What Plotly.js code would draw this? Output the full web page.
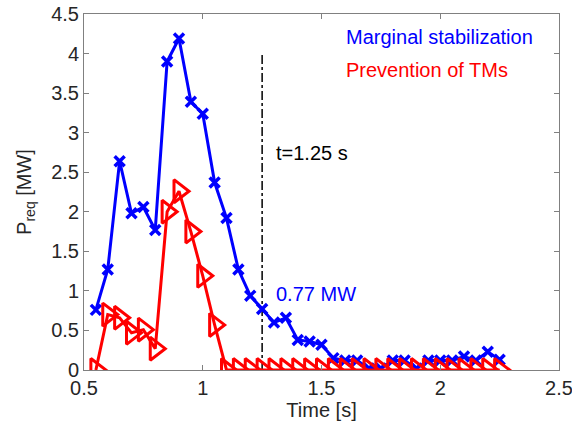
<!DOCTYPE html>
<html><head><meta charset="utf-8">
<script src="https://cdn.plot.ly/plotly-3.0.1.min.js"></script>
<style>body{margin:0;background:#fff}#c{width:572px;height:428px}</style>
</head><body><div id="c"></div>
<script>
const timeBlue = [0.55,0.60,0.65,0.70,0.75,0.80,0.85,0.90,0.95,1.00,1.05,1.10,1.15,1.20,1.25,1.30,1.35,1.40,1.45,1.50,1.55,1.60,1.65,1.70,1.75,1.80,1.85,1.90,1.95,2.00,2.05,2.10,2.15,2.20,2.25];
const pMarginal = [0.76,1.27,2.64,1.98,2.06,1.77,3.90,4.19,3.39,3.24,2.37,1.92,1.27,0.94,0.77,0.60,0.66,0.38,0.36,0.32,0.15,0.12,0.12,0.02,0.02,0.12,0.12,0.02,0.12,0.12,0.12,0.17,0.12,0.23,0.13];
const timeRed = [0.55,0.60,0.65,0.70,0.75,0.80,0.85,0.90,0.95,1.00,1.05,1.10,1.15,1.20,1.25,1.30,1.35,1.40,1.45,1.50,1.55,1.60,1.65,1.70,1.75,1.80,1.85,1.90,1.95,2.00,2.05,2.10,2.15,2.20,2.25];
const pPrevention = [0,0.70,0.66,0.47,0.51,0.27,2.00,2.26,1.75,1.19,0.57,0,0,0,0,0,0,0,0,0,0,0,0,0,0,0,0,0,0,0,0,0,0,0,0];
const markTime = [1.25,1.25];
const markP = [0,4.0];
const xTicks = [0.5,1,1.5,2,2.5];
const yTicks = [0,0.5,1,1.5,2,2.5,3,3.5,4,4.5];

const font = 'Liberation Sans';
const fs = 20;
const data = [
  {x: markTime, y: markP, mode:'lines', line:{color:'#000', width:1.5, dash:'dashdot'}, hoverinfo:'skip'},
  {x: timeBlue, y: pMarginal, mode:'lines+markers', line:{color:'#0000ff', width:3},
   marker:{symbol:'x-thin-open', size:10, line:{color:'#0000ff', width:3.5}}},
  {x: timeRed, y: pPrevention, mode:'lines+markers', line:{color:'#ff0000', width:3},
   marker:{symbol:'triangle-right-open', size:20, color:'#ff0000', line:{color:'#ff0000', width:3}}}
];
const axisBase = {showline:true, linecolor:'#808080', linewidth:1, mirror:'ticks', ticks:'inside', ticklen:5,
  tickcolor:'#808080', showgrid:false, zeroline:false, ticklabeloverflow:'allow', tickfont:{family:font, size:fs, color:'#262626'}};
const pw = 572-84-13, ph = 428-14-58;
const layout = {
  width:572, height:428, margin:{l:84, r:13, t:14, b:58},
  paper_bgcolor:'#fff', plot_bgcolor:'#fff', showlegend:false,
  xaxis: Object.assign({}, axisBase, {range:[0.5,2.5], tickvals:xTicks, ticktext:xTicks.map(String),
    title:{text:'Time [s]', font:{family:font, size:fs, color:'#262626'}, standoff:4}}),
  yaxis: Object.assign({}, axisBase, {range:[0,4.5], tickvals:yTicks, ticktext:yTicks.map(String),
    title:{text:'P<sub>req</sub> [MW]', font:{family:font, size:fs, color:'#262626'}, standoff:14}}),
  annotations: [
    {x:1.30, y:2.74, xref:'x', yref:'y', text:'t=1.25 s', showarrow:false, xanchor:'left', font:{family:font, size:fs, color:'#000'}},
    {x:1.30, y:0.96, xref:'x', yref:'y', text:'0.77 MW', showarrow:false, xanchor:'left', font:{family:font, size:fs, color:'#0000ff'}},
    {x:(344-84)/pw, y:1-(37-14)/ph, xref:'paper', yref:'paper', text:'Marginal stabilization', showarrow:false, xanchor:'left', yanchor:'middle', font:{family:font, size:fs, color:'#0000ff'}},
    {x:(344-84)/pw, y:1-(70-14)/ph, xref:'paper', yref:'paper', text:'Prevention of TMs', showarrow:false, xanchor:'left', yanchor:'middle', font:{family:font, size:fs, color:'#ff0000'}}
  ]
};
Plotly.newPlot('c', data, layout, {displayModeBar:false, staticPlot:true});
</script></body></html>
